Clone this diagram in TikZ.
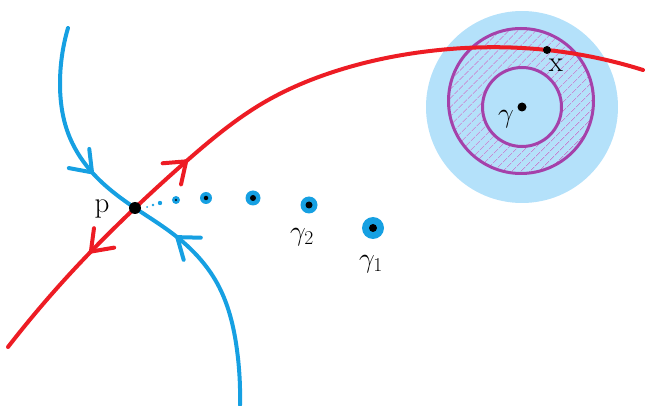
\RequirePackage{fix-cm}
\documentclass[tikz,border=0pt]{standalone}
\usetikzlibrary{arrows.meta,decorations.markings,patterns.meta,hobby}
\definecolor{redc}{RGB}{237,28,36}
\definecolor{bluec}{RGB}{22,160,226}
\definecolor{lightb}{RGB}{180,225,250}
\definecolor{purp}{RGB}{165,65,170}
\definecolor{hatchc}{RGB}{190,120,205}
\tikzset{
  curve/.style={line width=4pt, line cap=round, line join=round},
  barb/.tip={Straight Barb[length=19pt,width=28pt,line cap=round]},
  blk/.style={circle, fill=black, inner sep=0pt},
  bluedot/.style={circle, fill=bluec, inner sep=0pt},
  lbl/.style={font=\fontsize{29}{32}\selectfont, inner sep=0pt},
  glbl/.style={font=\fontsize{28}{32}\selectfont, inner sep=0pt},
}
\begin{document}
\begin{tikzpicture}[x=1pt,y=1pt]
\useasboundingbox (0,0) rectangle (646,405);
% disk region
\coordinate (G) at (522,298);
\coordinate (O) at (521,304);
\fill[lightb] (G) circle (96);
\fill[pattern={Lines[angle=45,distance=6.5pt,line width=0.8pt]}, pattern color=hatchc, even odd rule]
  (O) circle (72.5) (G) circle (39.5);
\draw[purp, line width=3pt] (O) circle (72.5);
\draw[purp, line width=3pt] (G) circle (39.5);
% key points
\coordinate (P) at (135,197);
\coordinate (X) at (547,355);
% stable manifold (blue)
\draw[bluec, curve, use Hobby shortcut, postaction={decorate}, decoration={markings,
   mark=at position 0.35 with {\arrow{barb}},
   mark=at position 0.575 with {\arrowreversed{barb}}}]
  (68,377) .. (60,322) .. (68,272) .. (90,235) .. (P) .. (177,168) .. (217,122) .. (237,55) .. (240,0);
% unstable manifold (red)
\draw[redc, curve, use Hobby shortcut, postaction={decorate}, decoration={markings,
   mark=at position 0.165 with {\arrowreversed{barb}},
   mark=at position 0.35 with {\arrow{barb}}}]
  (8,58) .. (67,128) .. (P) .. (190,247) .. (263,302) .. (330,332) .. (430,354) .. (X) .. (643,335);
% points
\node[blk, minimum size=12pt] (p) at (P) {};
\node[blk, minimum size=8pt] (x) at (X) {};
\node[blk, minimum size=9pt] (g) at (G) {};
% sequence
\node[bluedot, minimum size=22pt] (s1) at (373,177) {};
\node[blk, minimum size=8pt] at (s1) {};
\node[bluedot, minimum size=17pt] (s2) at (309,200) {};
\node[blk, minimum size=7pt] at (s2) {};
\node[bluedot, minimum size=15pt] (s3) at (253,207) {};
\node[blk, minimum size=6pt] at (s3) {};
\node[bluedot, minimum size=12pt] (s4) at (206,207) {};
\node[blk, minimum size=4.5pt] at (s4) {};
\node[bluedot, minimum size=8pt] (s5) at (176,205) {};
\node[blk, minimum size=2.4pt] at (s5) {};
\node[bluedot, minimum size=4.4pt] (s6) at (160,202) {};
\node[bluedot, minimum size=2.6pt] (s7) at (153,200) {};
\node[bluedot, minimum size=2pt] (s8) at (147,198) {};
% labels
\node[lbl] at (102,196) {p};
\node[lbl] at (556,340) {x};
\node[glbl] at (506,286) {$\gamma$};
\node[glbl] at (302,168) {$\gamma_2$};
\node[glbl] at (371,141) {$\gamma_1$};
\end{tikzpicture}
\end{document}
